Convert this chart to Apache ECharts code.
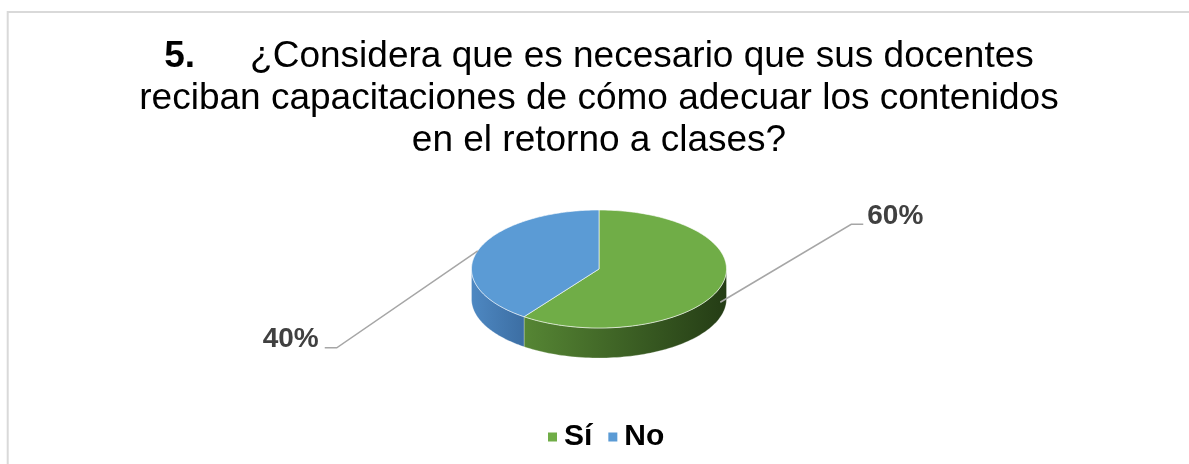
<!DOCTYPE html>
<html>
<head>
<meta charset="utf-8">
<script src="https://cdn.jsdelivr.net/npm/echarts@6/dist/echarts.min.js"></script>
<style>
html,body{margin:0;padding:0;background:#fff;}
#chart{width:1189px;height:464px;}
</style>
</head>
<body>
<div id="chart"></div>
<script>
// ---- data ----
const categories = ['Sí', 'No'];
const values = [60, 40];
const titleNumber = '5.';
const titleLines = [
  '¿Considera que es necesario que sus docentes',
  'reciban capacitaciones de cómo adecuar los contenidos',
  'en el retorno a clases?'
];

// ---- style / layout ----
const topColors = ['#70AD47', '#5B9BD5'];
const wallStops = [
  [['#568634', 0], ['#243c15', 1]],
  [['#4e88c2', 0], ['#3c6ea3', 1]]
];
const FONT = '"Liberation Sans", Arial, sans-serif';
const pie = { cx: 599, cy: 269, rx: 127.5, ry: 59, depth: 30 };
const labelLayout = [
  { dx: 131, dy: -78, tail: 12, side: 'left' },
  { dx: -141, dy: 97, tail: -12, side: 'right' }
];

const total = values.reduce((a, b) => a + b, 0);
const startAngles = [];
(function () { let acc = 0; values.forEach(v => { startAngles.push(acc / total * Math.PI * 2); acc += v; }); })();

function P(t, dy) {
  return [pie.cx + pie.rx * Math.sin(t), pie.cy - pie.ry * Math.cos(t) + (dy || 0)];
}

function makeRender(idx) {
  return function (params, api) {
    const v = api.value(0);
    const a0 = startAngles[idx];
    const a1 = a0 + v / total * Math.PI * 2;
    const children = [];
    // front wall
    const s = Math.max(a0, Math.PI / 2), e = Math.min(a1, Math.PI * 1.5);
    if (e > s) {
      const pts = [];
      const n = 80;
      for (let i = 0; i <= n; i++) pts.push(P(s + (e - s) * i / n, 0));
      for (let i = n; i >= 0; i--) pts.push(P(s + (e - s) * i / n, pie.depth));
      children.push({
        type: 'polygon', z2: 1,
        shape: { points: pts },
        style: {
          fill: new echarts.graphic.LinearGradient(0, 0, 1, 0,
            wallStops[idx].map(c => ({ offset: c[1], color: c[0] }))),
          stroke: 'rgba(255,255,255,0.35)', lineWidth: 0.8
        }
      });
    }
    // top face
    const tp = [[pie.cx, pie.cy]];
    const m = 160;
    for (let i = 0; i <= m; i++) tp.push(P(a0 + (a1 - a0) * i / m, 0));
    children.push({
      type: 'polygon', z2: 2,
      shape: { points: tp },
      style: { fill: topColors[idx], stroke: 'rgba(255,255,255,0.6)', lineWidth: 1 }
    });
    // label + leader line
    const mid = (a0 + a1) / 2;
    const front = Math.cos(mid) < 0;
    const anchor = P(mid, front ? pie.depth / 2 : 0);
    const L = labelLayout[idx];
    const elbow = [anchor[0] + L.dx, anchor[1] + L.dy];
    const end = [elbow[0] + L.tail, elbow[1]];
    children.push({
      type: 'polyline', z2: 3,
      shape: { points: [anchor, elbow, end] },
      style: { stroke: '#a6a6a6', lineWidth: 1.5, fill: null }
    });
    children.push({
      type: 'text', z2: 4,
      x: end[0] + (L.side === 'left' ? 4 : -6),
      y: elbow[1] - 8,
      style: {
        text: Math.round(v / total * 100) + '%',
        font: 'bold 28px ' + FONT,
        fill: '#404040',
        align: L.side,
        verticalAlign: 'middle'
      }
    });
    return { type: 'group', children: children };
  };
}

const chart = echarts.init(document.getElementById('chart'));
chart.setOption({
  animation: false,
  backgroundColor: '#ffffff',
  legend: {
    data: categories,
    top: 417,
    left: 543,
    icon: 'rect',
    itemWidth: 9,
    itemHeight: 9,
    itemGap: 16,
    textStyle: { fontFamily: FONT, fontWeight: 'bold', fontSize: 30, color: '#000', padding: [0, 0, 0, 2] }
  },
  graphic: [
    {
      type: 'rect', silent: true,
      shape: { x: 7.7, y: 12, width: 1300, height: 600 },
      style: { fill: 'none', stroke: '#d9d9d9', lineWidth: 2 }
    },
    {
      type: 'text', x: 599, y: 36,
      style: {
        text: '{b|' + titleNumber + '}{gap| }' + titleLines[0] + '\n' + titleLines[1] + '\n' + titleLines[2],
        font: '37px ' + FONT,
        fill: '#000',
        align: 'center',
        lineHeight: 42,
        rich: {
          b: { font: 'bold 37px ' + FONT, fill: '#000', lineHeight: 42 },
          gap: { width: 55, lineHeight: 42 }
        }
      }
    }
  ],
  series: categories.map((name, i) => ({
    type: 'custom',
    name: name,
    coordinateSystem: 'none',
    itemStyle: { color: topColors[i] },
    data: [{ name: name, value: values[i] }],
    renderItem: makeRender(i)
  }))
});
</script>
</body>
</html>
